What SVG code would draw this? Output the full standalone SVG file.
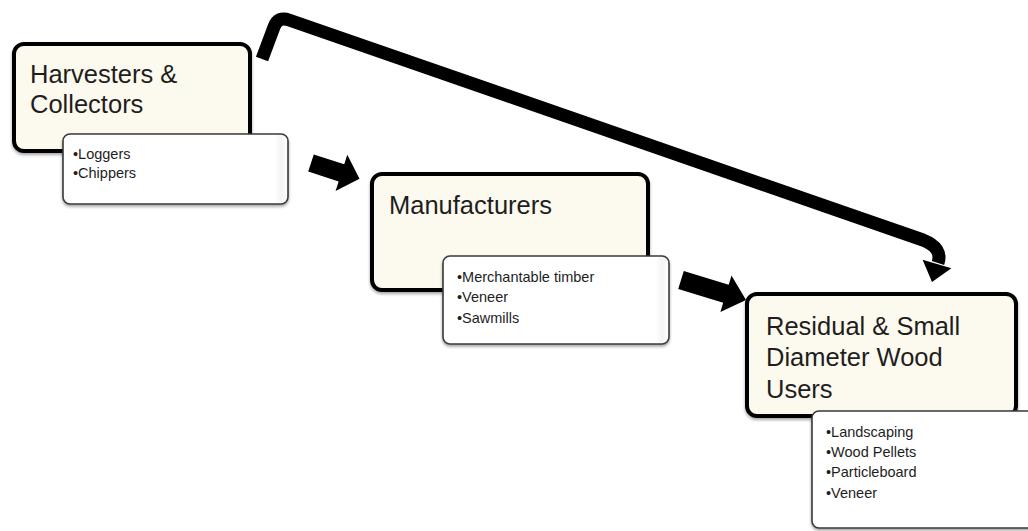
<svg xmlns="http://www.w3.org/2000/svg" width="1028" height="531" viewBox="0 0 1028 531">
  <defs>
    <filter id="sh" x="-10%" y="-10%" width="120%" height="130%">
      <feGaussianBlur in="SourceAlpha" stdDeviation="1.5"/>
      <feOffset dx="0" dy="2" result="b"/>
      <feComponentTransfer><feFuncA type="linear" slope="0.35"/></feComponentTransfer>
      <feMerge><feMergeNode/><feMergeNode in="SourceGraphic"/></feMerge>
    </filter>
    <linearGradient id="subg" x1="0" y1="0" x2="1" y2="0">
      <stop offset="0" stop-color="#ffffff"/>
      <stop offset="0.94" stop-color="#ffffff"/>
      <stop offset="0.97" stop-color="#f4f4f4"/>
      <stop offset="1" stop-color="#ffffff"/>
    </linearGradient>
  </defs>
  <style>
    .main { fill: #fcf9ee; stroke: #000; stroke-width: 4; }
    .sub { fill: url(#subg); stroke: #3a3a3a; stroke-width: 1.6; }
    .big { font-family: "Liberation Sans", Arial, sans-serif; font-size: 25.5px; fill: #1e1e1e; }
    .small { font-family: "Liberation Sans", Arial, sans-serif; font-size: 14.5px; fill: #1e1e1e; }
    .conn { fill: none; stroke: #000; stroke-width: 13; stroke-linejoin: round; }
    .head { fill: #000; }
  </style>

  <g id="connectors">
    <path class="conn" d="M 262 59 L 274 27 Q 278 16 289 20 L 923 240 Q 943 248 938 263"/>
    <polygon class="head" points="922.6,259.8 951.4,268.2 932,282"/>
    <polygon class="head" transform="translate(311,163) rotate(18)" points="0,-9 32,-9 32,-19 51,0 32,19 32,9 0,9"/>
    <polygon class="head" transform="translate(681,280) rotate(17)" points="0,-9.5 47,-9.5 47,-19 68,0 47,19 47,9.5 0,9.5"/>
  </g>

  <g id="harvesters">
    <rect class="main" filter="url(#sh)" x="14" y="44" width="236" height="107" rx="10"/>
    <text class="big" x="30" y="83">Harvesters &amp;</text>
    <text class="big" x="30" y="113">Collectors</text>
  </g>
  <g id="harvesters-list">
    <rect class="sub" filter="url(#sh)" x="63" y="134" width="225" height="70" rx="7"/>
    <text class="small" x="73" y="159">•Loggers</text>
    <text class="small" x="73" y="178">•Chippers</text>
  </g>

  <g id="manufacturers">
    <rect class="main" filter="url(#sh)" x="372" y="174" width="276" height="116" rx="10"/>
    <text class="big" x="389" y="214">Manufacturers</text>
  </g>
  <g id="manufacturers-list">
    <rect class="sub" filter="url(#sh)" x="443" y="256" width="226" height="88" rx="7"/>
    <text class="small" x="457" y="282">•Merchantable timber</text>
    <text class="small" x="457" y="302">•Veneer</text>
    <text class="small" x="457" y="323">•Sawmills</text>
  </g>

  <g id="residual">
    <rect class="main" filter="url(#sh)" x="747" y="294" width="269" height="122" rx="10"/>
    <text class="big" x="766" y="335">Residual &amp; Small</text>
    <text class="big" x="766" y="366">Diameter Wood</text>
    <text class="big" x="766" y="398">Users</text>
  </g>
  <g id="residual-list">
    <rect class="sub" filter="url(#sh)" x="812" y="411" width="230" height="117" rx="7"/>
    <text class="small" x="826" y="437">•Landscaping</text>
    <text class="small" x="826" y="457">•Wood Pellets</text>
    <text class="small" x="826" y="477">•Particleboard</text>
    <text class="small" x="826" y="498">•Veneer</text>
  </g>
</svg>
